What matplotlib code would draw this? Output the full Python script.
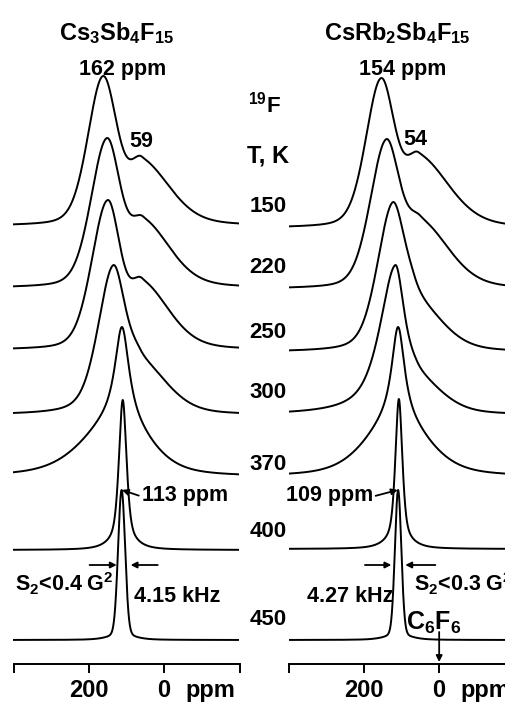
import numpy as np
import matplotlib
matplotlib.use('Agg')
import matplotlib.pyplot as plt
import matplotlib.transforms as mtransforms

plt.rcParams['font.family'] = ['Liberation Sans', 'DejaVu Sans']
plt.rcParams['font.weight'] = 'bold'
plt.rcParams['mathtext.fontset'] = 'custom'
plt.rcParams['mathtext.rm'] = 'Liberation Sans:bold'
plt.rcParams['mathtext.it'] = 'Liberation Sans:bold'
plt.rcParams['mathtext.bf'] = 'Liberation Sans:bold'

# temperatures, K (top to bottom)
temps = [150, 220, 250, 300, 370, 400, 450]

# Cs3Sb4F15 : main line + shoulder / broad wing (ppm, half widths in ppm)
cs_main_pos = [162, 152, 150, 136, 112, 110, 113]
cs_main_hw_hi = [48, 50, 50, 48, 22, 12, 11]
cs_main_hw_lo = [45, 42, 40, 38, 22, 12, 11]
cs_main_eta = [0.25, 0.25, 0.25, 0.4, 0.9, 0.6, 0.1]
cs_side_pos = [59, 56, 59, 64, 118, 110, 113]
cs_side_amp = [0.41, 0.43, 0.43, 0.33, 0.67, 0.05, 0.03]
cs_side_hw_hi = [38, 41, 37, 42, 110, 40, 40]
cs_side_hw_lo = [88, 85, 85, 85, 90, 40, 40]
cs_side_eta = [0.3, 0.3, 0.3, 0.3, 0.5, 0.5, 0.5]
cs_offset = [438, 376, 314, 249, 187, 114, 24]

# CsRb2Sb4F15
rb_main_pos = [154, 141, 125, 117, 109, 107, 109]
rb_main_hw_hi = [48, 50, 48, 50, 20, 11, 10]
rb_main_hw_lo = [43, 42, 38, 30, 20, 11, 10]
rb_main_eta = [0.25, 0.25, 0.35, 0.75, 0.9, 0.6, 0.1]
rb_side_pos = [54, 50, 65, 59, 112, 107, 109]
rb_side_amp = [0.46, 0.44, 0.33, 0.2, 0.67, 0.05, 0.03]
rb_side_hw_hi = [41, 46, 40, 38, 95, 40, 40]
rb_side_hw_lo = [95, 90, 85, 80, 95, 40, 40]
rb_side_eta = [0.3, 0.3, 0.3, 0.3, 0.5, 0.5, 0.5]
rb_offset = [436, 375, 312, 249, 187, 115, 24]

peak_height = 150


def pv(x, c, hw_hi, hw_lo, eta):
    hw = np.where(x > c, hw_hi, hw_lo)
    r2 = ((x - c) / hw) ** 2
    return eta / (1 + r2) + (1 - eta) * np.exp(-np.log(2) * r2)


def draw_panel(ax, pos, hwh, hwl, eta, spos, samp, shwh, shwl, seta, offs):
    x = np.linspace(400, -200, 2000)
    for i in range(len(offs)):
        y = pv(x, pos[i], hwh[i], hwl[i], eta[i]) + samp[i] * pv(x, spos[i], shwh[i], shwl[i], seta[i])
        y = y / y.max() * peak_height + offs[i]
        ax.plot(x, y, color='black', lw=1.4)
    ax.set_xlim(400, -200)
    ax.set_ylim(0, 664)
    for s in ['left', 'top', 'right']:
        ax.spines[s].set_visible(False)
    ax.spines['bottom'].set_linewidth(1.4)
    ax.set_yticks([])
    ax.set_xticks([400, 200, 0, -200])
    ax.set_xticklabels(['', '200', '0', ''])
    ax.tick_params(axis='x', direction='out', length=6.5, width=1.4, labelsize=17, pad=4)
    ax.patch.set_alpha(0)
    tr = mtransforms.offset_copy(mtransforms.blended_transform_factory(ax.transData, ax.transAxes),
                                 fig=ax.figure, y=-10.5, units='points')
    ax.text(-122, 0, 'ppm', transform=tr, ha='center', va='top', fontsize=17)


fig = plt.figure(figsize=(5.06, 7.06), dpi=100)
axL = fig.add_axes([13.5 / 506, 42 / 706, 226 / 506, 664 / 706])
axR = fig.add_axes([288.5 / 506, 42 / 706, 226 / 506, 664 / 706])

draw_panel(axL, cs_main_pos, cs_main_hw_hi, cs_main_hw_lo, cs_main_eta,
           cs_side_pos, cs_side_amp, cs_side_hw_hi, cs_side_hw_lo, cs_side_eta, cs_offset)
draw_panel(axR, rb_main_pos, rb_main_hw_hi, rb_main_hw_lo, rb_main_eta,
           rb_side_pos, rb_side_amp, rb_side_hw_hi, rb_side_hw_lo, rb_side_eta, rb_offset)

# titles
fig.text(117 / 506, 1 - 40 / 706, r'Cs$_3$Sb$_4$F$_{15}$', ha='center', va='baseline', fontsize=17)
fig.text(397 / 506, 1 - 40 / 706, r'CsRb$_2$Sb$_4$F$_{15}$', ha='center', va='baseline', fontsize=17)

# peak positions of the top spectra
axL.text(110, cs_offset[0] + peak_height + 1, '162 ppm', ha='center', va='baseline', fontsize=15.5)
axL.text(62, cs_offset[0] + 79, '59', ha='center', va='baseline', fontsize=15.5)
axR.text(97, rb_offset[0] + peak_height + 3, '154 ppm', ha='center', va='baseline', fontsize=15.5)
axR.text(63, rb_offset[0] + 83, '54', ha='center', va='baseline', fontsize=15.5)

# middle column
label_y = [452, 391, 326, 266, 194, 127, 39]
axL.text(-265, 552, r'$^{19}$F', ha='center', va='baseline', fontsize=16, clip_on=False)
axL.text(-276, 502, 'T, K', ha='center', va='baseline', fontsize=17, clip_on=False)
for t, ly in zip(temps, label_y):
    axL.text(-275, ly, str(t), ha='center', va='baseline', fontsize=16, clip_on=False)

# narrow line at 450 K: position and width
arr = dict(arrowstyle='-|>', color='black', lw=1.3, mutation_scale=9, shrinkA=0, shrinkB=0)
top = cs_offset[-1] + peak_height
half = cs_offset[-1] + peak_height / 2
axL.annotate('113 ppm', xy=(cs_main_pos[-1] - 1, top), xytext=(60, top - 11), ha='left', va='baseline',
             fontsize=15.5, arrowprops=dict(arr, relpos=(0, 0.45)))
axL.annotate('', xy=(cs_main_pos[-1] + 13, half), xytext=(cs_main_pos[-1] + 85, half), arrowprops=arr)
axL.annotate('', xy=(cs_main_pos[-1] - 24, half), xytext=(cs_main_pos[-1] - 96, half), arrowprops=arr)
axL.text(395, half - 26, r'S$_2$<0.4 G$^2$', ha='left', va='baseline', fontsize=15.5)
axL.text(80, half - 37, '4.15 kHz', ha='left', va='baseline', fontsize=15.5)

top = rb_offset[-1] + peak_height
half = rb_offset[-1] + peak_height / 2
axR.annotate('109 ppm', xy=(rb_main_pos[-1] + 1, top), xytext=(176, top - 11), ha='right', va='baseline',
             fontsize=15.5, arrowprops=dict(arr, relpos=(1, 0.45)))
axR.annotate('', xy=(rb_main_pos[-1] + 18, half), xytext=(rb_main_pos[-1] + 88, half), arrowprops=arr)
axR.annotate('', xy=(rb_main_pos[-1] - 19, half), xytext=(rb_main_pos[-1] - 99, half), arrowprops=arr)
axR.text(66, half - 26, r'S$_2$<0.3 G$^2$', ha='left', va='baseline', fontsize=15.5, clip_on=False)
axR.text(352, half - 37, '4.27 kHz', ha='left', va='baseline', fontsize=15.5)
axR.text(87, 34, r'C$_6$F$_6$', ha='left', va='baseline', fontsize=18)
axR.annotate('', xy=(0, 2), xytext=(0, 32), arrowprops=arr)

fig.savefig('out.png', dpi=100)
